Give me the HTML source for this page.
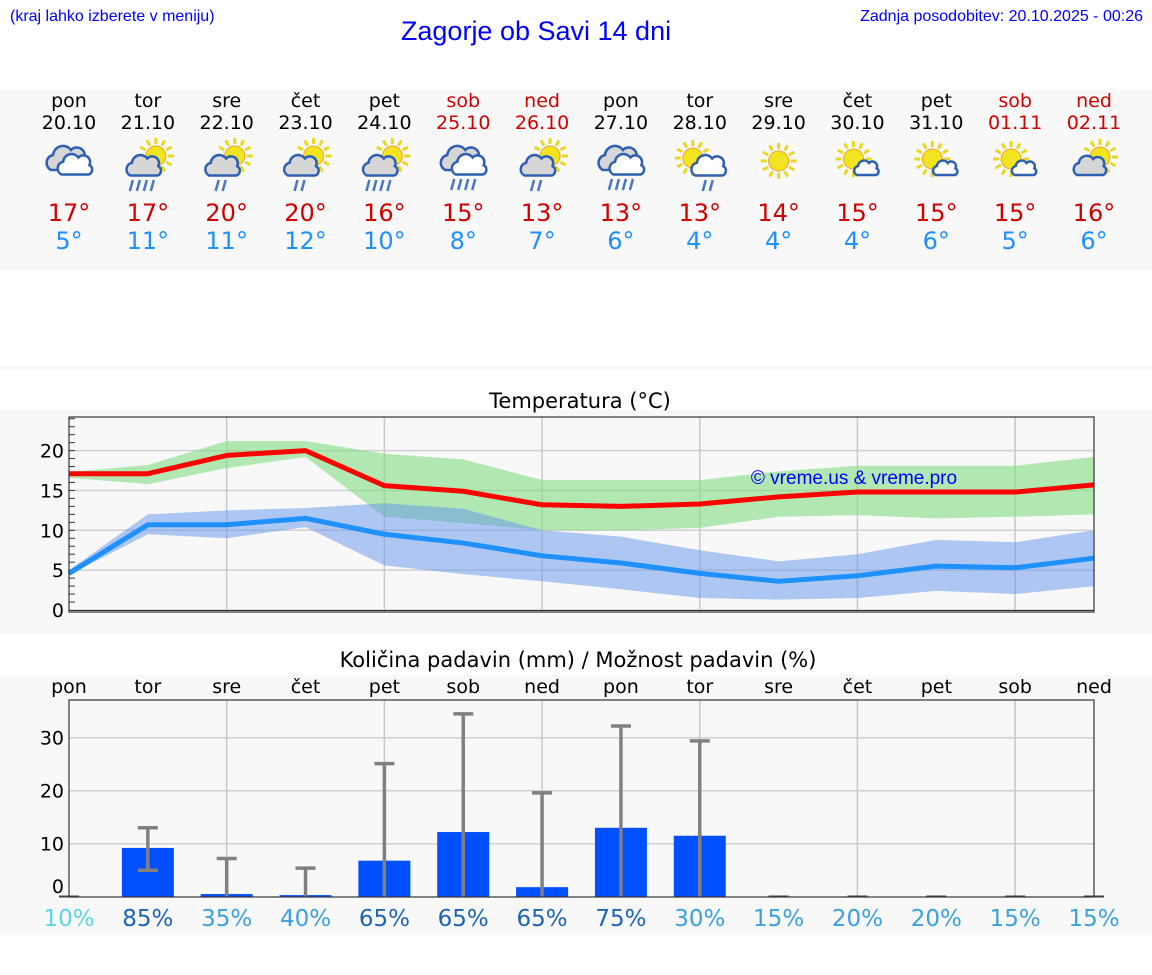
<!DOCTYPE html>
<html><head><meta charset="utf-8">
<style>
html,body{margin:0;padding:0;background:#fff;}
svg{display:block;font-family:"DejaVu Sans","Liberation Sans",sans-serif;}
</style></head>
<body>
<svg id="page" width="1152" height="975" xmlns="http://www.w3.org/2000/svg">
<rect x="0" y="0" width="1152" height="975" fill="#fff"/>
<text x="10" y="21" font-size="16" fill="#0000ff" font-family="Liberation Sans, sans-serif">(kraj lahko izberete v meniju)</text>
<text x="536" y="40" font-size="27" fill="#0000ff" text-anchor="middle" font-family="Liberation Sans, sans-serif">Zagorje ob Savi 14 dni</text>
<text x="1143" y="21" font-size="16" fill="#0000ff" text-anchor="end" font-family="Liberation Sans, sans-serif">Zadnja posodobitev: 20.10.2025 - 00:26</text>
<rect x="0" y="90" width="1152" height="180" fill="#f8f8f8"/>
<rect x="0" y="365" width="1152" height="5" fill="#f8f8f8"/>
<rect x="0" y="410" width="1152" height="225" fill="#f8f8f8"/>
<rect x="0" y="675" width="1152" height="260" fill="#f8f8f8"/>
<g id="topg"></g>
<text x="580" y="408" font-size="21" text-anchor="middle">Temperatura (°C)</text>
<g id="tchart"></g>
<text x="578" y="667" font-size="21" text-anchor="middle">Količina padavin (mm) / Možnost padavin (%)</text>
<g id="pchart"></g>
</svg>
<script>
const days=["pon","tor","sre","čet","pet","sob","ned","pon","tor","sre","čet","pet","sob","ned"];
const dates=["20.10","21.10","22.10","23.10","24.10","25.10","26.10","27.10","28.10","29.10","30.10","31.10","01.11","02.11"];
const hiLabels=[17,17,20,20,16,15,13,13,13,14,15,15,15,16];
const loLabels=[5,11,11,12,10,8,7,6,4,4,4,6,5,6];
const icons=["cloud","sunrain4","sunrain2","sunrain2","sunrain4","cloudrain","sunrain2","cloudrain","sunwrain","sun","sunsmall","sunsmall","sunsmall","sungray"];
const tMax=[17.1,17.1,19.4,20.0,15.6,14.9,13.2,13.0,13.3,14.2,14.8,14.8,14.8,15.7];
const tMaxHi=[17.3,18.2,21.2,21.2,19.6,18.9,16.3,16.3,16.3,17.4,18.1,18.1,18.1,19.2];
const tMaxLo=[16.6,15.8,17.8,19.2,11.7,10.9,10.0,10.0,10.3,11.7,11.9,11.5,11.7,12.0];
const tMin=[4.6,10.7,10.7,11.5,9.5,8.4,6.8,5.9,4.6,3.6,4.3,5.5,5.3,6.5];
const tMinHi=[5.0,12.0,12.5,12.8,13.4,12.7,10.0,9.2,7.5,6.1,7.0,8.8,8.5,10.0];
const tMinLo=[4.4,9.5,9.0,10.4,5.6,4.5,3.6,2.6,1.5,1.3,1.5,2.4,2.0,3.0];
const tTicks=[0,5,10,15,20];
const precip=[0,9.2,0.5,0.3,6.8,12.2,1.8,13.0,11.5,0,0,0,0,0];
const errLo=[0,5.0,0,0,0,0,0,0,0,0,0,0,0,0];
const errHi=[0,13.0,7.2,5.4,25.1,34.5,19.6,32.2,29.4,0,0,0,0,0];
const chance=[10,85,35,40,65,65,65,75,30,15,20,20,15,15];
const pTicks=[0,10,20,30];

const NS="http://www.w3.org/2000/svg";
function mk(parent,tag,attrs,txt){const e=document.createElementNS(NS,tag);for(const k in attrs)e.setAttribute(k,attrs[k]);if(txt!==undefined)e.textContent=txt;parent.appendChild(e);return e;}
const X=i=>69+i*(1094-69)/13;
const weekend=i=>days[i]==="sob"||days[i]==="ned";

const topG=document.getElementById('topg');
function sun(g,cx,cy,r){
  for(let a=0;a<12;a++){const t=a*Math.PI/6;
    mk(g,'line',{x1:cx+Math.cos(t)*(r+2),y1:cy+Math.sin(t)*(r+2),x2:cx+Math.cos(t)*(r+8),y2:cy+Math.sin(t)*(r+8),stroke:'#e8d820','stroke-width':3});}
  mk(g,'circle',{cx:cx,cy:cy,r:r,fill:'#f2e41e',stroke:'#f0a030','stroke-width':1});
}
function cloud(g,cx,cy,s,fill){
  const p=`M${cx-16*s},${cy+10*s} a${8*s},${8*s} 0 0 1 ${2*s},${-15*s} a${10*s},${10*s} 0 0 1 ${18*s},${-5*s} a${8*s},${8*s} 0 0 1 ${13*s},${9*s} a${6*s},${6*s} 0 0 1 ${-1*s},${11*s} Z`;
  mk(g,'path',{d:p,fill:fill,stroke:'#2f5fb0','stroke-width':2.5});
}
function rain(g,cx,cy,n){for(let k=0;k<n;k++){const x=cx-(n-1)*3.5+k*7;mk(g,'line',{x1:x+1.5,y1:cy,x2:x-1.5,y2:cy+11,stroke:'#4a78c0','stroke-width':2.5});}}
for(let i=0;i<14;i++){
  const x=X(i), col=weekend(i)?'#d00000':'#000';
  const d=mk(topG,'text',{x:x,y:107,'font-size':19,'text-anchor':'middle',fill:col},days[i]);
  
  
  const dt=mk(topG,'text',{x:x,y:129,'font-size':19,'text-anchor':'middle',fill:col},dates[i]);
  
  
  const g=mk(topG,'g',{});
  
  
  const t=icons[i], cy=165;
  if(t==="cloud"){cloud(g,x-2,cy-5,1,'#d6d6d6');cloud(g,x+6,cy+1,0.85,'#fff');}
  else if(t==="cloudrain"){cloud(g,x-2,cy-5,1,'#d6d6d6');cloud(g,x+6,cy+1,0.85,'#fff');rain(g,x,cy+14,4);}
  else if(t==="sunrain4"||t==="sunrain2"){sun(g,x+8,cy-9,10);cloud(g,x-4,cy+2,0.85,'#d6d6d6');rain(g,x-6,cy+15,t==="sunrain4"?4:2);}
  else if(t==="sunwrain"){sun(g,x-7,cy-7,10);cloud(g,x+9,cy+2,0.85,'#fff');rain(g,x+8,cy+15,2);}
  else if(t==="sun"){sun(g,x,cy-4,10);}
  else if(t==="sunsmall"){sun(g,x-4,cy-6,10);cloud(g,x+9,cy+4,0.6,'#fff');}
  else if(t==="sungray"){sun(g,x+6,cy-8,10);cloud(g,x-4,cy+2,0.8,'#d6d6d6');}
  const h=mk(topG,'text',{x:x,y:221,'font-size':24,'text-anchor':'middle',fill:'#d00000'},hiLabels[i]+'°');
  
  
  const l=mk(topG,'text',{x:x,y:249,'font-size':24,'text-anchor':'middle',fill:'#1e90ff'},loLabels[i]+'°');
  
  
}

const tc=document.getElementById('tchart');
const TY=v=>610-v*7.97;
mk(tc,'rect',{x:69,y:417,width:1025,height:195,fill:'#f8f8f8'});
for(const v of tTicks){mk(tc,'line',{x1:69,x2:1094,y1:TY(v),y2:TY(v),stroke:'#d0d0d0','stroke-width':1.5});
  const tl=mk(tc,'text',{x:64,y:TY(v)+7,'font-size':19,'text-anchor':'end'},v);
  
  }
for(let v=1;v<=24;v++)mk(tc,'line',{x1:69,x2:75,y1:TY(v),y2:TY(v),stroke:'#333','stroke-width':1});
for(let i=2;i<14;i+=2)mk(tc,'line',{x1:X(i),x2:X(i),y1:417,y2:612,stroke:'#c8c8c8','stroke-width':1.5});
function band(hi,lo,fill,name){let d='M';for(let i=0;i<14;i++)d+=X(i)+','+TY(hi[i])+' L';for(let i=13;i>=0;i--)d+=X(i)+','+TY(lo[i])+(i?' L':' Z');
  const p=mk(tc,'path',{d:d,fill:fill});
  
  }
band(tMaxHi,tMaxLo,'rgba(130,220,130,0.6)','max-temp-range');
band(tMinHi,tMinLo,'rgba(100,150,235,0.5)','min-temp-range');
function line(vals,col,name){const pts=vals.map((v,i)=>X(i)+','+TY(v)).join(' ');
  const p=mk(tc,'polyline',{points:pts,fill:'none',stroke:col,'stroke-width':5,'stroke-linejoin':'round'});
  
  }
line(tMax,'#ff0000','max-temp-line');
line(tMin,'#1e90ff','min-temp-line');
mk(tc,'rect',{x:69,y:417,width:1025,height:195,fill:'none',stroke:'#333','stroke-width':1.2});
mk(tc,'line',{x1:69,x2:1094,y1:TY(0)+0.5,y2:TY(0)+0.5,stroke:'#333','stroke-width':1});
const wm=mk(tc,'text',{x:854,y:484,'font-size':19,'text-anchor':'middle',fill:'#0000ff','font-family':'Liberation Sans, sans-serif'},'© vreme.us & vreme.pro');



const pc=document.getElementById('pchart');
const PY=v=>896.7-v*5.3;
mk(pc,'rect',{x:69,y:700,width:1025,height:197,fill:'#f8f8f8'});
for(const v of pTicks){if(v>0)mk(pc,'line',{x1:69,x2:1094,y1:PY(v),y2:PY(v),stroke:'#d0d0d0','stroke-width':1.5});
  const tl=mk(pc,'text',{x:64,y:(v===0?893:PY(v)+7),'font-size':19,'text-anchor':'end'},v);
  
  }
for(let i=2;i<14;i+=2)mk(pc,'line',{x1:X(i),x2:X(i),y1:700,y2:897,stroke:'#c8c8c8','stroke-width':1.5});
const pctCol=v=>v>=60?'#1e64b4':(v>=15?'#3ca0dc':'#5ad6e6');
for(let i=0;i<14;i++){
  const x=X(i);
  const dn=mk(pc,'text',{x:x,y:693,'font-size':19,'text-anchor':'middle'},days[i]);
  
  
  if(precip[i]>0){const b=mk(pc,'rect',{x:x-26,y:PY(precip[i]),width:52,height:PY(0)-PY(precip[i]),fill:'#0050ff'});
    
    }
  else mk(pc,'line',{x1:x-10,x2:x+10,y1:896.5,y2:896.5,stroke:'#444','stroke-width':2});
  if(errHi[i]>0){const g=mk(pc,'g',{stroke:'#808080','stroke-width':3.5});
    
    
    mk(g,'line',{x1:x,x2:x,y1:PY(errLo[i]),y2:PY(errHi[i])});
    mk(g,'line',{x1:x-10,x2:x+10,y1:PY(errHi[i]),y2:PY(errHi[i])});
    if(errLo[i]>0)mk(g,'line',{x1:x-10,x2:x+10,y1:PY(errLo[i]),y2:PY(errLo[i])});}
  const pt=mk(pc,'text',{x:x,y:926,'font-size':23,'text-anchor':'middle',fill:pctCol(chance[i])},chance[i]+'%');
  
  
}
mk(pc,'rect',{x:69,y:700,width:1025,height:197,fill:'none',stroke:'#333','stroke-width':1.2});
</script>
</body></html>
